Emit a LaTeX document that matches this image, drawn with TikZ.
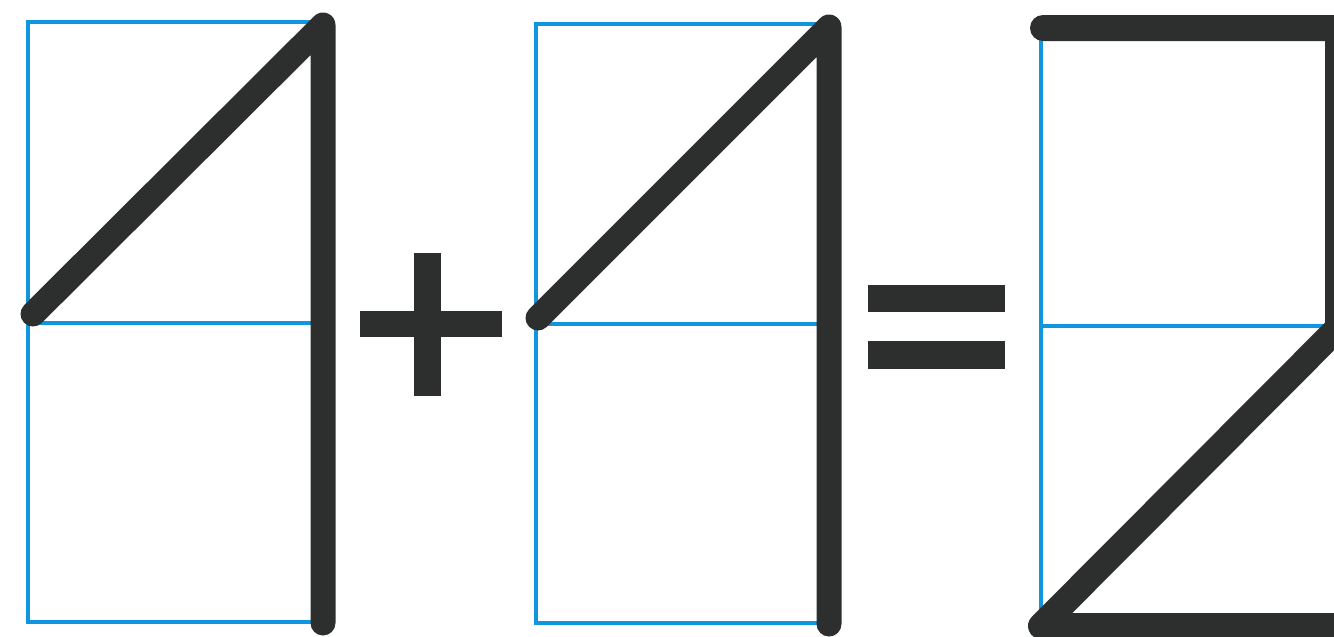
\documentclass[tikz,border=0pt]{standalone}
\definecolor{gridblue}{RGB}{16,150,222}
\definecolor{ink}{RGB}{44,47,45}
\tikzset{
  grid/.style={draw=gridblue, line width=4.5pt},
  stroke/.style={draw=ink, line width=25pt, line cap=round, line join=round},
  boldstroke/.style={draw=ink, line width=26pt, line cap=round, line join=round},
  bar/.style={fill=ink, draw=none}
}
\begin{document}
\begin{tikzpicture}[x=1pt,y=-1pt]
\useasboundingbox (0,0) rectangle (1334,637);
\clip (0,0) rectangle (1334,637);
% --- first digit 1 ---
\coordinate (a1) at (28,22);
\coordinate (a2) at (323,622);
\coordinate (am) at (28,323);
\coordinate (amr) at (323,323);
\coordinate (atop) at (323,25);
\coordinate (abot) at (323,623);
\coordinate (adiag) at (33,314);
\draw[grid] (a1) rectangle (a2);
\draw[grid] (am) -- (amr);
\draw[stroke] (adiag) -- (atop) -- (abot);
% --- plus ---
\fill[bar] (360,311) rectangle (502,337);
\fill[bar] (414,253) rectangle (441,396);
% --- second digit 1 ---
\coordinate (b1) at (536,24);
\coordinate (b2) at (829,623);
\coordinate (bm) at (536,324);
\coordinate (bmr) at (829,324);
\coordinate (btop) at (829,27);
\coordinate (bbot) at (829,624);
\coordinate (bdiag) at (538,318);
\draw[grid] (b1) rectangle (b2);
\draw[grid] (bm) -- (bmr);
\draw[stroke] (bdiag) -- (btop) -- (bbot);
% --- equals ---
\fill[bar] (868,285) rectangle (1005,312);
\fill[bar] (868,341) rectangle (1005,369);
% --- result 2 ---
\coordinate (c1) at (1041,28);
\coordinate (c2) at (1041,626);
\coordinate (cm) at (1041,326);
\coordinate (cmr) at (1337,326);
\coordinate (ctl) at (1043,28);
\coordinate (ctr) at (1338,28);
\coordinate (cr) at (1338,328);
\coordinate (cbl) at (1041,626);
\coordinate (cbr) at (1350,626);
\draw[grid] (c1) -- (c2);
\draw[grid] (cm) -- (cmr);
\draw[boldstroke] (ctl) -- (ctr) -- (cr) -- (cbl) -- (cbr);
\end{tikzpicture}
\end{document}
